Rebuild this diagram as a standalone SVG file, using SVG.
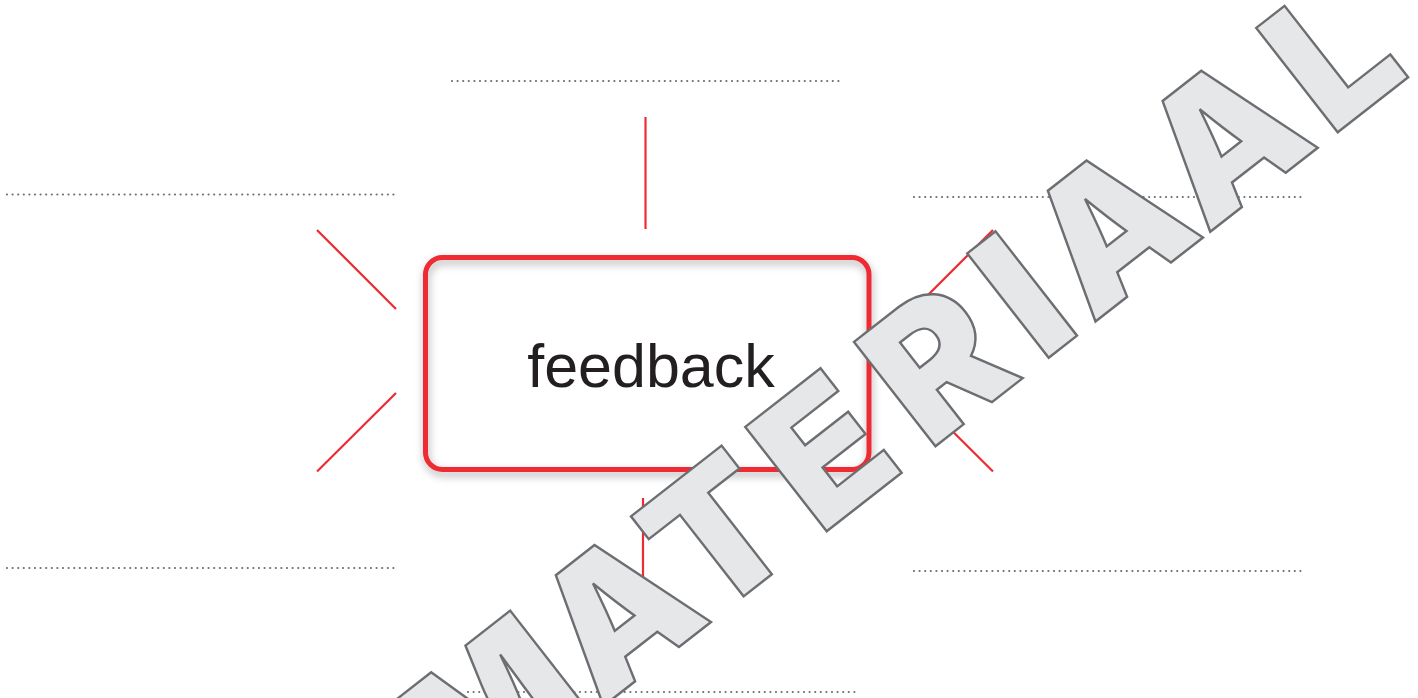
<svg xmlns="http://www.w3.org/2000/svg" width="1418" height="698" viewBox="0 0 1418 698">
  <defs>
    <filter id="shadow" x="-10%" y="-15%" width="120%" height="135%">
      <feDropShadow dx="1" dy="4" stdDeviation="4" flood-color="#000" flood-opacity="0.32"/>
    </filter>
  </defs>
  <style>
    .dots { stroke: #6d6e71; stroke-width: 2.2; stroke-linecap: round; stroke-dasharray: 0 5.6; fill: none; }
    .ray { stroke: #ee2a33; stroke-width: 2.2; fill: none; }
    .wm { font-family: Inter, "Noto Sans", Roboto, sans-serif; font-weight: 900; font-size: 182px; text-anchor: middle; fill: #e6e7e8; stroke: #6d6e71; stroke-width: 2.4; stroke-linejoin: miter; }
  </style>
  <rect width="1418" height="698" fill="#ffffff"/>

  <g id="writing-lines">
    <line class="dots" x1="452" y1="81" x2="843" y2="81"/>
    <line class="dots" x1="7" y1="194.5" x2="397" y2="194.5"/>
    <line class="dots" x1="914" y1="197" x2="1305" y2="197"/>
    <line class="dots" x1="7" y1="568" x2="397" y2="568"/>
    <line class="dots" x1="914" y1="571" x2="1305" y2="571"/>
    <line class="dots" x1="468" y1="692" x2="859" y2="692"/>
  </g>

  <g id="connectors">
    <line class="ray" x1="645.5" y1="117" x2="645.5" y2="229"/>
    <line class="ray" x1="643" y1="498" x2="643" y2="610"/>
    <line class="ray" x1="317" y1="230" x2="396" y2="309"/>
    <line class="ray" x1="396" y1="393" x2="317" y2="471.5"/>
    <line class="ray" x1="914" y1="309" x2="993" y2="230"/>
    <line class="ray" x1="914" y1="393" x2="993" y2="471.5"/>
  </g>

  <g id="node-feedback">
    <rect x="425.5" y="257.5" width="443.5" height="212" rx="17" fill="#ffffff"/>
    <rect x="425.5" y="257.5" width="443.5" height="212" rx="17" fill="none" stroke="#ee2a33" stroke-width="5" filter="url(#shadow)"/>
    <text x="651" y="387" font-family="Liberation Sans, Arial, sans-serif" font-size="61" fill="#231f20" text-anchor="middle">feedback</text>
  </g>

  <g id="watermark" transform="translate(1047 358) rotate(-38)">
    <text class="wm" x="-657" y="1">M</text>
    <text class="wm" x="-495.5" y="1">A</text>
    <text class="wm" x="-368" y="1">T</text>
    <text class="wm" x="-233" y="1">E</text>
    <text class="wm" x="-90" y="1">R</text>
    <text class="wm" x="19.5" y="1">I</text>
    <text class="wm" x="129" y="1">A</text>
    <text class="wm" x="274.5" y="1">A</text>
    <text class="wm" x="411" y="1">L</text>
  </g>
</svg>
